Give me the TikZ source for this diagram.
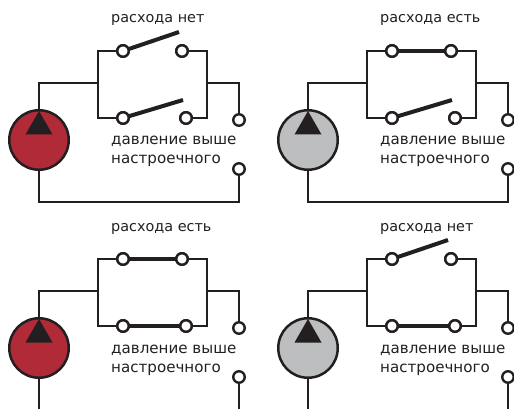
\documentclass[tikz,border=0pt]{standalone}
\usepackage{fontspec}
\setmainfont{DejaVu Sans}
\definecolor{wire}{HTML}{231F20}
\definecolor{pumpred}{HTML}{B02A37}
\definecolor{pumpgrey}{HTML}{BCBEC0}
\tikzset{
  wireline/.style={draw=wire,line width=2.5pt,line join=miter},
  blade/.style={draw=wire,line width=4pt},
  term/.style={circle,draw=wire,fill=white,line width=2.4pt,inner sep=0pt,minimum size=11.5pt},
  pump/.style={circle,draw=wire,line width=2.5pt,inner sep=0pt,minimum size=59.5pt},
  lab/.style={anchor=base west,inner sep=0pt,font=\fontsize{15.1}{16}\selectfont,text=wire},
  toplab/.style={anchor=base west,inner sep=0pt,font=\fontsize{14.4}{15}\selectfont,text=wire},
  arrowtri/.style={fill=wire}
}
% #1 prefix, #2 dx, #3 dy, #4 colour, #5 top label, #6 label x
% #7 top blade end, #8 bottom blade end, #9 x of lower right terminal
\newcommand{\panelunit}[9]{%
\begin{scope}[shift={(#2,#3)}]
  \coordinate (#1tl) at (98,51);
  \coordinate (#1tr) at (207,51);
  \coordinate (#1bl) at (98,118);
  \coordinate (#1br) at (207,118);
  \coordinate (#1jl) at (98,83);
  \coordinate (#1jr) at (207,83);
  \coordinate (#1el) at (39,83);
  \coordinate (#1er) at (239,83);
  \coordinate (#1fl) at (39,202);
  \coordinate (#1fr) at (239,202);
  \node[pump,fill=#4] (#1p) at (39,140) {};
  \node[term] (#1a) at (123,51) {};
  \node[term] (#1b) at (182,51) {};
  \node[term] (#1c) at (123,118) {};
  \node[term] (#1d) at (#9,118) {};
  \node[term] (#1u) at (239,120) {};
  \node[term] (#1v) at (239,169) {};
  \path[wireline] (#1a) -- (#1tl) -- (#1bl) -- (#1c);
  \path[wireline] (#1b) -- (#1tr) -- (#1br) -- (#1d);
  \path[wireline] (#1p.north) -- (#1el) -- (#1jl);
  \path[wireline] (#1jr) -- (#1er) -- (#1u.north);
  \path[wireline] (#1p.south) -- (#1fl) -- (#1fr) -- (#1v.south);
  \path[arrowtri] (39,111) -- (52.5,134.5) -- (25.5,134.5) -- cycle;
  \path[blade] (#1a.center) -- #7;
  \path[blade] (#1c.center) -- #8;
  \node[term] at (#1a) {};
  \node[term] at (#1b) {};
  \node[term] at (#1c) {};
  \node[term] at (#1d) {};
  \node[toplab] (#1t) at (#6,23) {#5};
  \node[lab] (#1x) at (111,145) {давление выше};
  \node[lab] (#1y) at (111,164) {настроечного};
\end{scope}}
\begin{document}
\begin{tikzpicture}[x=1pt,y=-1pt]
\useasboundingbox (0,0) rectangle (514,409);
\panelunit{A}{0}{0}{pumpred}{расхода нет}{111}{(179,32)}{(183,100)}{186}
\panelunit{B}{269}{0}{pumpgrey}{расхода есть}{111}{(Bb.center)}{(183,100)}{186}
\panelunit{C}{0}{208}{pumpred}{расхода есть}{111}{(Cb.center)}{(Cd.center)}{186}
\panelunit{D}{269}{208}{pumpgrey}{расхода нет}{111}{(179,32)}{(Dd.center)}{186}
\end{tikzpicture}
\end{document}
